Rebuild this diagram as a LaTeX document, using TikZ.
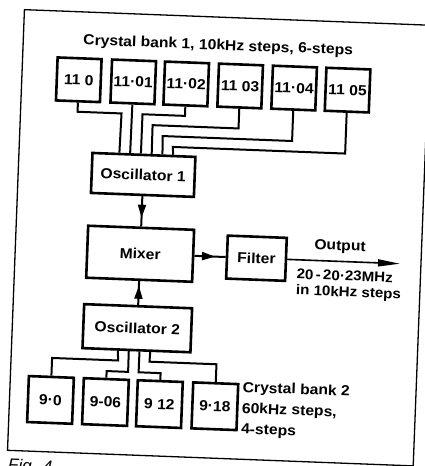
\documentclass[tikz,border=0pt]{standalone}
\usepackage{fontspec}
\newfontfamily\labfont[FakeStretch=1.08]{Liberation Sans}
\newfontfamily\capfont{Liberation Sans}
\usetikzlibrary{arrows.meta,decorations.markings,calc}
\begin{document}
\begin{tikzpicture}[x=1pt,y=-1pt,
  lbl/.style={inner sep=0pt, font=\labfont\bfseries\fontsize{14.5pt}{17pt}\selectfont},
  box/.style={lbl, draw, line width=2.6pt},
  xtal/.style={box, minimum width=44pt, minimum height=43pt},
  xtaltwo/.style={box, minimum width=45pt, minimum height=46pt},
  wire/.style={line width=2pt},
  midarrow/.style={postaction={decorate, decoration={markings,
     mark=at position #1 with {\arrow{Triangle[length=13pt,width=8pt]}}}}},
  frame/.style={draw, line width=1.3pt, inner sep=0pt}]
\useasboundingbox (0,0) rectangle (425,466);
\begin{scope}[rotate around={-2.2:(212,233)}, transform shape]
  % frame
  \node[frame, minimum width=406pt, minimum height=441pt] (frame) at (219,237.5) {};
  % crystal bank 1
  \node[lbl] (t1) at (211,46) {Crystal bank 1, 10kHz steps, 6-steps};
  \node[xtal] (b0) at (73,85) {11 0};
  \node[xtal] (b1) at (127.5,85) {11·01};
  \node[xtal] (b2) at (180.5,85) {11·02};
  \node[xtal] (b3) at (234.5,85) {11 03};
  \node[xtal] (b4) at (288.5,85) {11·04};
  \node[xtal] (b5) at (342,85) {11 05};
  % main chain
  \node[box, minimum width=103pt, minimum height=40pt] (osc1) at (141,177.6) {Oscillator 1};
  \node[box, minimum width=106pt, minimum height=52pt] (mixer) at (141,256.5) {Mixer};
  \node[box, minimum width=59pt, minimum height=43pt] (filter) at (257.4,256.5) {Filter};
  \node[box, minimum width=108pt, minimum height=44pt] (osc2) at (141,331) {Oscillator 2};
  % crystal bank 2
  \node[xtaltwo] (c0) at (57,406) {9·0};
  \node[xtaltwo] (c1) at (112,406) {9-06};
  \node[xtaltwo] (c2) at (166,406) {9 12};
  \node[xtaltwo] (c3) at (221.5,406) {9·18};
  \node[lbl, anchor=west] (t2a) at (248.5,387) {Crystal bank 2};
  \node[lbl, anchor=west] (t2b) at (248.5,408) {60kHz steps,};
  \node[lbl, anchor=west] (t2c) at (248.5,429) {4-steps};
  % output labels
  \node[lbl] (outlbl) at (340.5,242) {Output};
  \node[lbl, align=left, anchor=north west,
        font=\labfont\bfseries\fontsize{14pt}{16pt}\selectfont] (freq) at (298,265.5)
        {20\,-\,20·23MHz\\in 10kHz steps};
  \coordinate (outend) at (401,256.5);
  % caption (cut by the page edge)
  \node[inner sep=0pt, anchor=north west, font=\capfont\itshape\fontsize{17pt}{20pt}\selectfont] (cap) at (17,466) {Fig. 4};
  % bank 1 wiring
  \draw[wire] (b0.south) -- (73,117) -- (117,117) -- ($(osc1.north west)!0.267!(osc1.north east)$);
  \draw[wire] (b1.south) -- ($(osc1.north west)!0.369!(osc1.north east)$);
  \draw[wire] (b2.south) -- (180.5,117) -- (138,117) -- ($(osc1.north west)!0.471!(osc1.north east)$);
  \draw[wire] (b3.south) -- (234.5,127.5) -- (148.5,127.5) -- ($(osc1.north west)!0.573!(osc1.north east)$);
  \draw[wire] (b4.south) -- (288.5,138) -- (159,138) -- ($(osc1.north west)!0.675!(osc1.north east)$);
  \draw[wire] (b5.south) -- (342,148.5) -- (169.5,148.5) -- ($(osc1.north west)!0.777!(osc1.north east)$);
  % bank 2 wiring
  \draw[wire] ($(osc2.south west)!0.333!(osc2.south east)$) -- (123,364) -- (57,364) -- (c0.north);
  \draw[wire] ($(osc2.south west)!0.431!(osc2.south east)$) -- (133.5,375) -- (112,375) -- (c1.north);
  \draw[wire] ($(osc2.south west)!0.528!(osc2.south east)$) -- (144,375) -- (166,375) -- (c2.north);
  \draw[wire] ($(osc2.south west)!0.625!(osc2.south east)$) -- (154.5,364) -- (221.5,364) -- (c3.north);
  % signal arrows
  \draw[wire, midarrow=0.71] (osc1.south) -- (mixer.north);
  \draw[wire, midarrow=0.8] (osc2.north) -- (mixer.south);
  \draw[wire, midarrow=0.66] (mixer.east) -- (filter.west);
  \draw[line width=1.6pt, -{Triangle[length=22pt,width=7pt]}] (filter.east) -- (outend);
\end{scope}
\end{tikzpicture}
\end{document}
